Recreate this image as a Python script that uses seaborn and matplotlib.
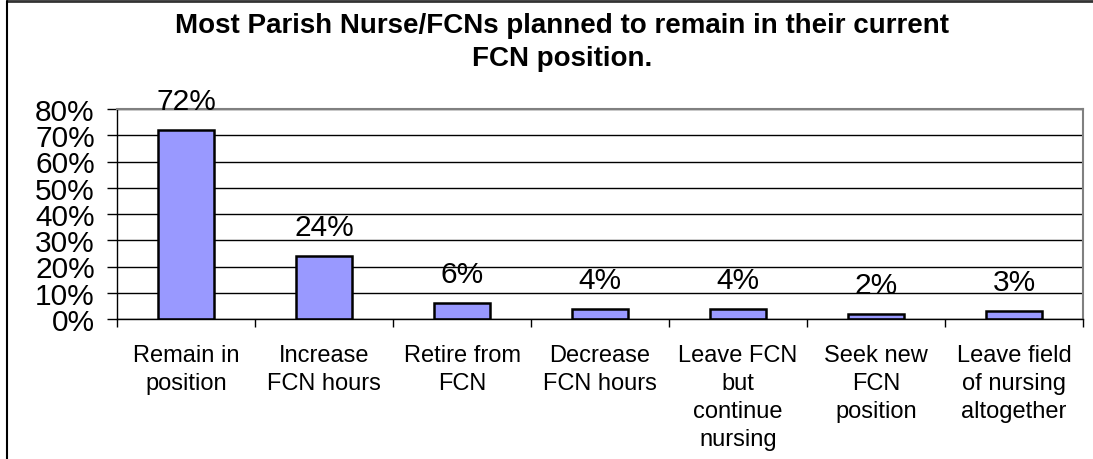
import matplotlib
matplotlib.use("Agg")
import matplotlib.pyplot as plt
import seaborn as sns
import pandas as pd
import numpy as np
from matplotlib.ticker import FixedLocator, PercentFormatter

categories = ["Remain in\nposition", "Increase\nFCN hours", "Retire from\nFCN",
              "Decrease\nFCN hours", "Leave FCN\nbut\ncontinue\nnursing",
              "Seek new\nFCN\nposition", "Leave field\nof nursing\naltogether"]
values = [72, 24, 6, 4, 4, 2, 3]
value_labels = ["72%", "24%", "6%", "4%", "4%", "2%", "3%"]
yticks = [0, 10, 20, 30, 40, 50, 60, 70, 80]

sns.set_theme(style="white")
plt.rcParams['font.family'] = ['Liberation Sans', 'DejaVu Sans']
plt.rcParams['text.color'] = 'black'
plt.rcParams['xtick.color'] = 'black'
plt.rcParams['ytick.color'] = 'black'
plt.rcParams['axes.labelcolor'] = 'black'

df = pd.DataFrame({"cat": categories, "val": values})

fig = plt.figure(figsize=(10.93, 4.6), dpi=100)
ax = fig.add_axes([117/1093, 1-320/460, (1083-117)/1093, (320-110)/460])

sns.barplot(data=df, x="cat", y="val", ax=ax, color="#9999FF", width=0.4,
            edgecolor="black", linewidth=1.8, saturation=1)

ax.set_ylim(0, 80)
ax.set_xlim(-0.5, len(categories) - 0.5)
ax.set_yticks(yticks)
ax.yaxis.set_major_formatter(PercentFormatter(decimals=0))
ax.set_axisbelow(True)
ax.yaxis.grid(True, color="black", linewidth=1)
ax.set_xlabel("")
ax.set_ylabel("")

for s in ["left", "bottom"]:
    ax.spines[s].set_color("black")
    ax.spines[s].set_linewidth(1)
for s in ["top", "right"]:
    ax.spines[s].set_color("#808080")
    ax.spines[s].set_linewidth(1.5)

ax.tick_params(axis="y", which="major", direction="out", length=7, width=1,
               color="black", left=True, labelsize=21.5, pad=9, labelcolor="black")
ax.set_xticks(range(len(categories)))
ax.set_xticklabels(categories, linespacing=1.36, multialignment="center")
ax.tick_params(axis="x", which="major", length=0, labelsize=17, pad=18, labelcolor="black")
ax.xaxis.set_minor_locator(FixedLocator(np.arange(-0.5, len(categories), 1.0)))
ax.tick_params(axis="x", which="minor", direction="out", length=6, width=1,
               color="black", bottom=True)

for i, (v, t) in enumerate(zip(values, value_labels)):
    ax.annotate(t, xy=(i, v), xytext=(0, 15), textcoords="offset points",
                ha="center", va="baseline", fontsize=21.5, color="black",
                annotation_clip=False)

fig.text(562/1093, 1-26/460, "Most Parish Nurse/FCNs planned to remain in their current",
         ha="center", va="center", fontsize=20, fontweight="bold", color="black")
fig.text(562/1093, 1-59/460, "FCN position.",
         ha="center", va="center", fontsize=20, fontweight="bold", color="black")

# outer frame lines (top and left)
fig.add_artist(plt.Line2D([7/1093, 1], [1-2/460, 1-2/460], transform=fig.transFigure,
                          color="#333333", linewidth=2))
fig.add_artist(plt.Line2D([7/1093, 7/1093], [0, 1-2/460], transform=fig.transFigure,
                          color="black", linewidth=1.5))

fig.savefig("out.png", dpi=100)
